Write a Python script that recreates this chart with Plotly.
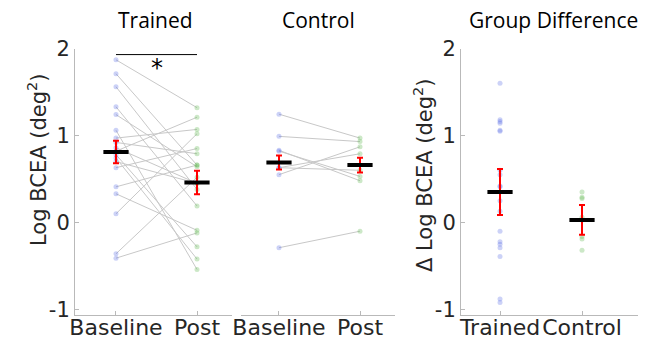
import plotly.graph_objects as go

# ---- data ----
conditions = ["Baseline", "Post"]
groups = ["Trained", "Control"]
y_ticks = [-1, 0, 1, 2]
y_ticktext = ["-1", "0", "1", "2"]

trained_baseline = [1.87, 1.71, 1.56, 1.33, 1.24, 1.06, 0.97, 0.92, 0.86, 0.82,
                    0.78, 0.74, 0.70, 0.63, 0.41, 0.33, 0.10, -0.36, -0.41]
trained_post = [1.32, 0.66, 0.38, 0.19, 0.64, -0.54, 1.07, 0.79, 0.45, 1.21,
                -0.28, -0.42, 0.45, 0.85, 0.66, -0.09, 1.02, 0.52, -0.12]

control_baseline = [1.245, 0.99, 0.83, 0.82, 0.63, 0.63, 0.55, -0.29]
control_post = [0.97, 0.93, 0.48, 0.53, 0.60, 0.79, 0.87, -0.10]

trained_mean = [0.81, 0.46]
trained_err = [0.13, 0.135]
control_mean = [0.69, 0.66]
control_err = [0.08, 0.085]
diff_mean = [0.35, 0.03]
diff_err = [0.265, 0.17]

trained_diff = [b - p for b, p in zip(trained_baseline, trained_post)]
control_diff = [b - p for b, p in zip(control_baseline, control_post)]

BLUE = "rgba(95,115,230,0.32)"
GREEN = "rgba(110,190,95,0.35)"
GRAY = "rgb(200,200,200)"
AX = "rgb(185,185,185)"
TXT = "rgb(38,38,38)"

fig = go.Figure()


def add_paired(base, post, xa, ya):
    for b, p in zip(base, post):
        fig.add_trace(go.Scatter(x=[1, 2], y=[b, p], mode="lines",
                                 line=dict(color=GRAY, width=1),
                                 xaxis=xa, yaxis=ya, hoverinfo="skip"))
    fig.add_trace(go.Scatter(x=[1] * len(base), y=base, mode="markers",
                             marker=dict(size=5, color=BLUE),
                             xaxis=xa, yaxis=ya))
    fig.add_trace(go.Scatter(x=[2] * len(post), y=post, mode="markers",
                             marker=dict(size=5, color=GREEN),
                             xaxis=xa, yaxis=ya))


def add_stats(means, errs, xa, ya):
    fig.add_trace(go.Scatter(x=[1, 2], y=means, mode="markers",
                             marker=dict(size=1, color="rgba(0,0,0,0)"),
                             error_y=dict(type="data", array=errs, color="red",
                                          thickness=2, width=3),
                             xaxis=xa, yaxis=ya))
    fig.add_trace(go.Scatter(x=[1, 2], y=means, mode="markers",
                             marker=dict(symbol="line-ew", size=18,
                                         line=dict(color="black", width=4)),
                             xaxis=xa, yaxis=ya))


add_paired(trained_baseline, trained_post, "x", "y")
add_stats(trained_mean, trained_err, "x", "y")
add_paired(control_baseline, control_post, "x2", "y2")
add_stats(control_mean, control_err, "x2", "y2")

fig.add_trace(go.Scatter(x=[1] * len(trained_diff), y=trained_diff, mode="markers",
                         marker=dict(size=5, color=BLUE), xaxis="x3", yaxis="y3"))
fig.add_trace(go.Scatter(x=[2] * len(control_diff), y=control_diff, mode="markers",
                         marker=dict(size=5, color=GREEN), xaxis="x3", yaxis="y3"))
add_stats(diff_mean, diff_err, "x3", "y3")

W, H = 659, 339
top_px, bot_px = 48.5, 314.7
ydom = [1 - bot_px / H, 1 - top_px / H]
yrange = [-1.06, 2.0]

tickfont = dict(family="DejaVu Sans", size=22, color=TXT)


def xaxis(dom_px, rng, labels):
    return dict(domain=[dom_px[0] / W, dom_px[1] / W], range=rng,
                tickvals=[1, 2], ticktext=labels, showline=True, linecolor=AX,
                linewidth=1, ticks="inside", ticklen=4, tickcolor=AX, tickangle=0,
                showgrid=False, zeroline=False, tickfont=tickfont, fixedrange=True,
                automargin=False, ticklabelstandoff=-7)


def yaxis(show, anchor):
    d = dict(domain=ydom, range=yrange, anchor=anchor, showgrid=False,
             zeroline=False, fixedrange=True, automargin=False)
    if show:
        d.update(tickvals=y_ticks, ticktext=y_ticktext, showline=True, linecolor=AX,
                 linewidth=1, ticks="inside", ticklen=4, tickcolor=AX,
                 tickfont=dict(family="DejaVu Sans", size=21, color=TXT))
    else:
        d.update(showticklabels=False, showline=False, ticks="")
    return d


fig.update_layout(
    width=W, height=H, margin=dict(l=0, r=0, t=0, b=0, autoexpand=False),
    paper_bgcolor="white", plot_bgcolor="white", showlegend=False,
    xaxis=xaxis([75, 232], [0.494, 2.432], conditions),
    xaxis2=xaxis([241, 395], [0.531, 2.432], conditions),
    xaxis3=xaxis([461, 638], [0.524, 2.683], groups),
    yaxis=yaxis(True, "x"),
    yaxis2=yaxis(False, "x2"),
    yaxis3=yaxis(True, "x3"),
)

# y-axis titles
ytitlefont = dict(family="DejaVu Sans", size=21, color=TXT)
for xc, yc, t in [(37, 160, "Log BCEA (deg<sup>2</sup>)"),
                  (423, 175, "Δ Log BCEA (deg<sup>2</sup>)")]:
    fig.add_annotation(x=xc / W, y=1 - yc / H, xref="paper", yref="paper", text=t,
                       textangle=-90, showarrow=False, font=ytitlefont,
                       xanchor="center", yanchor="middle")

# significance bar
fig.add_shape(type="line", x0=1, x1=2, y0=1.93, y1=1.93, xref="x", yref="y",
              line=dict(color="black", width=1))
fig.add_annotation(x=1.5, y=1.78, xref="x", yref="y", text="*", showarrow=False,
                   font=dict(family="DejaVu Sans", size=24, color="black"))

titlefont = dict(family="Open Sans", size=21, color="black")
for xc, t in [(155, "Trained"), (318, "Control"), (553, "Group Difference")]:
    fig.add_annotation(x=xc / W, y=1 - 20 / H, xref="paper", yref="paper", text=t,
                       showarrow=False, font=titlefont, xanchor="center", yanchor="middle")

fig.write_html("out.html", config={"displayModeBar": False},
               post_script="document.body.style.margin='0';document.body.style.overflow='hidden';")
